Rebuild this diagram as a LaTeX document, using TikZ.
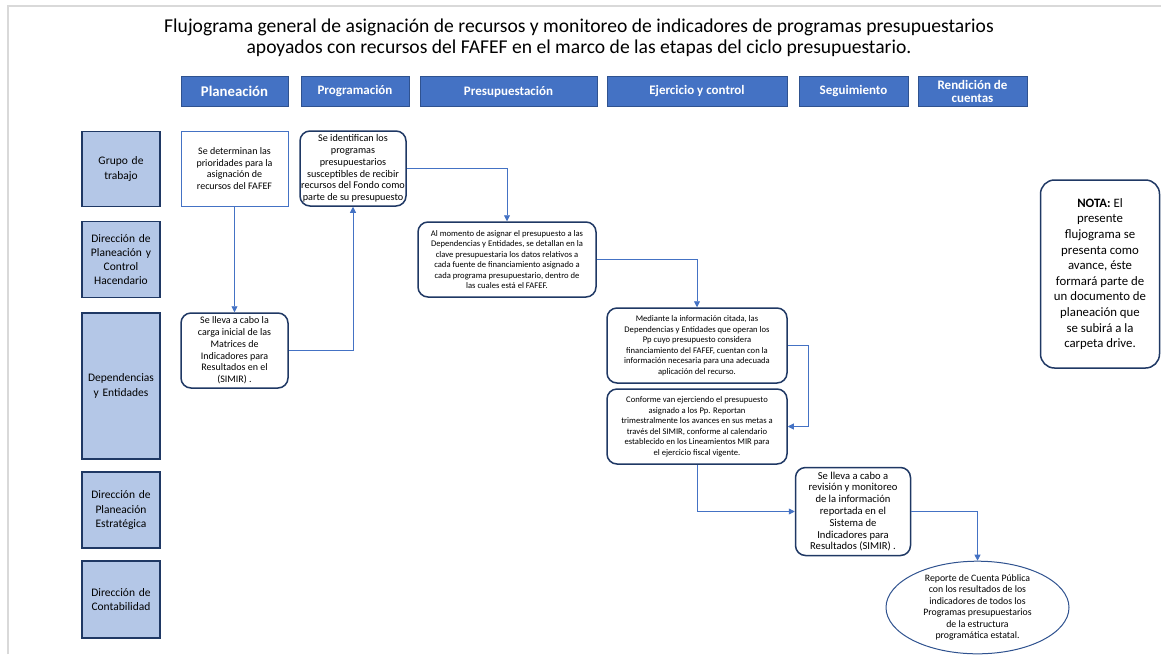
\documentclass[tikz,border=0pt]{standalone}
\usepackage{fontspec}
\setmainfont{Carlito}
\usetikzlibrary{arrows.meta, shapes.geometric}
\definecolor{hdrblue}{HTML}{4472C4}
\definecolor{hdrline}{HTML}{2F528F}
\definecolor{lanefill}{HTML}{B4C7E7}
\definecolor{navy}{HTML}{1F3864}
\definecolor{framegray}{HTML}{D9D9D9}

\begin{document}
\begin{tikzpicture}
                [x=1pt, y=-1pt,
                hdr/.style={rectangle, draw=hdrline, fill=hdrblue, text=white, line width=0.8pt, minimum height=30, inner sep=1pt, align=center, font=\bfseries\fontsize{13}{14}\selectfont},
                lane/.style={rectangle, draw=navy, fill=lanefill, line width=1.5pt, minimum width=78, text width=76, inner sep=1pt, align=center, font=\fontsize{11.5}{14.3}\selectfont},
                proc/.style={rectangle, rounded corners=10pt, draw=navy, fill=white, line width=1.5pt, inner sep=1pt, align=center, font=\fontsize{10}{11.8}\selectfont},
                small/.style={font=\fontsize{8.6}{10.5}\selectfont},
                asty/.style={-{Triangle[length=6pt, width=6pt]}, draw=hdrblue, line width=0.8pt}]
                \useasboundingbox (0,0) rectangle (1161,654);
                % frame
                \draw[framegray, line width=1.5pt] (8,654) -- (8,6) -- (1161,6);
                % title
                \node[align=center, font=\fontsize{19.6}{21}\selectfont] (title) at (579,38)
                    {Flujograma general de asignación de recursos y monitoreo de indicadores de programas presupuestarios\\
                     apoyados con recursos del FAFEF en el marco de las etapas del ciclo presupuestario.};
                % stages
                \node[hdr, minimum width=107, font=\bfseries\fontsize{14.8}{16}\selectfont] (plan) at (234.5,91.5) {Planeación};
                \node[hdr, minimum width=108] (prog)  at (355,91.5)   {Programación};
                \node[hdr, minimum width=177] (presu) at (508.5,91.5) {Presupuestación};
                \node[hdr, minimum width=180] (ejer)  at (697,91.5)   {Ejercicio y control};
                \node[hdr, minimum width=109] (segui) at (853.5,91.5) {Seguimiento};
                \node[hdr, minimum width=109, font=\bfseries\fontsize{13}{13.5}\selectfont] (rend) at (972.5,91.5) {Rendición de\\cuentas};
                % lanes
                \node[lane, minimum height=75]  (grupo) at (121,169)   {Grupo de\\trabajo};
                \node[lane, minimum height=76]  (dpch)  at (121,259.5) {Dirección de\\Planeación y\\Control\\Hacendario};
                \node[lane, minimum height=146] (dep)   at (121,386)   {Dependencias\\y Entidades};
                \node[lane, minimum height=76]  (dpe)   at (121,510)   {Dirección de\\Planeación\\Estratégica};
                \node[lane, minimum height=77]  (dcon)  at (121,599.5) {Dirección de\\Contabilidad};
                % activities
                \node[proc, rounded corners=0pt, draw=hdrblue, line width=1pt, minimum width=107, minimum height=75, font=\fontsize{10}{11.4}\selectfont] (prio) at (234.5,168.5)
                    {Se determinan las\\prioridades para la\\asignación de\\recursos del FAFEF};
                \node[proc, minimum width=106, minimum height=75, font=\fontsize{10.2}{11.8}\selectfont] (ident) at (353,168.5)
                    {Se identifican los\\programas\\presupuestarios\\susceptibles de recibir\\recursos del Fondo como\\parte de su presupuesto};
                \node[proc, small, minimum width=178, minimum height=75] (asig) at (507,259.5)
                    {Al momento de asignar el presupuesto a las\\Dependencias y Entidades, se detallan en la\\clave presupuestaria los datos relativos a\\cada fuente de financiamiento asignado a\\cada programa presupuestario, dentro de\\las cuales está el FAFEF.};
                \node[proc, minimum width=107, minimum height=75] (carga) at (234.5,350.5)
                    {Se lleva a cabo la\\carga inicial de las\\Matrices de\\Indicadores para\\Resultados en el\\(SIMIR) .};
                \node[proc, small, minimum width=180, minimum height=75] (medi) at (697,345.5)
                    {Mediante la información citada, las\\Dependencias y Entidades que operan los\\Pp cuyo presupuesto considera\\financiamiento del FAFEF, cuentan con la\\información necesaria para una adecuada\\aplicación del recurso.};
                \node[proc, small, minimum width=180, minimum height=75] (conf) at (697,426.5)
                    {Conforme van ejerciendo el presupuesto\\asignado a los Pp. Reportan\\trimestralmente los avances en sus metas a\\través del SIMIR, conforme al calendario\\establecido en los Lineamientos MIR para\\el ejercicio fiscal vigente.};
                \node[proc, font=\fontsize{10.6}{11.8}\selectfont, minimum width=115, minimum height=88] (revi) at (853,511.5)
                    {Se lleva a cabo a\\revisión y monitoreo\\de la información\\reportada en el\\Sistema de\\Indicadores para\\Resultados (SIMIR) .};
                \node[ellipse, draw=hdrline, fill=white, line width=1pt, inner sep=0pt, minimum width=183, minimum height=89, align=center, font=\fontsize{9.8}{11.4}\selectfont] (rep) at (977.5,607.5)
                    {Reporte de Cuenta Pública\\con los resultados de los\\indicadores de todos los\\Programas presupuestarios\\de la estructura\\programática estatal.};
                \node[proc, rounded corners=14pt, minimum width=119, minimum height=188, font=\fontsize{12.8}{15.6}\selectfont] (nota) at (1100,274)
                    {\textbf{NOTA:} El\\presente\\flujograma se\\presenta como\\avance, éste\\formará parte de\\un documento de\\planeación que\\se subirá a la\\carpeta drive.};
                % connectors
                \draw[asty] (prio) -- (carga);
                \draw[asty] (carga.east) -| (ident.south);
                \draw[asty] (ident.east) -| (asig.north);
                \draw[asty] (asig.east) -| (medi.north);
                \draw[asty] (medi.east) -- ++(21,0) |- (conf.east);
                \draw[asty] (conf.south) |- (revi.west);
                \draw[asty] (revi.east) -| (rep.north);
            \end{tikzpicture}
\end{document}
